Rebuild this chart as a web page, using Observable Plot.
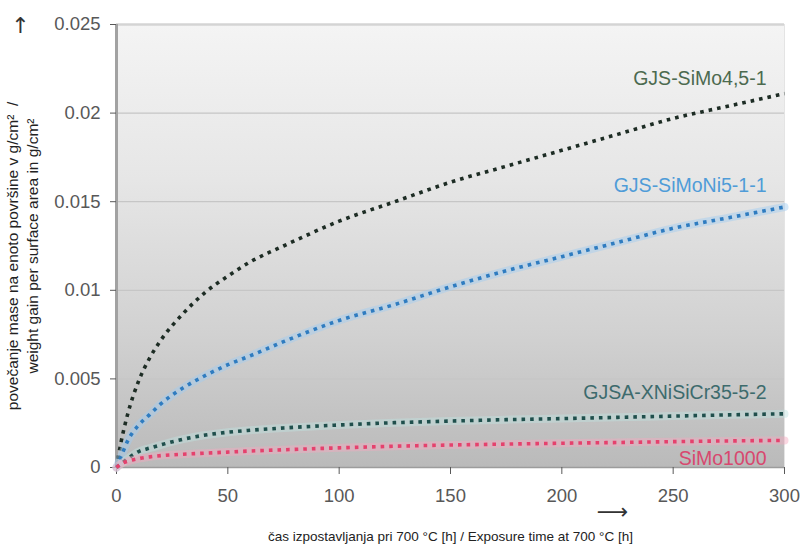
<!DOCTYPE html>
<html>
<head>
<meta charset="utf-8">
<script src="https://cdn.jsdelivr.net/npm/d3@7"></script>
<script src="https://cdn.jsdelivr.net/npm/@observablehq/plot@0.6"></script>
<style>
  html, body { margin: 0; padding: 0; background: #fff; }
</style>
</head>
<body>
<div id="chart"></div>
<script>
// ---- data ----
const hours = [0, 2, 5, 10, 15, 20, 30, 40, 50, 60, 75, 100, 125, 150, 175, 200, 225, 250, 275, 300];
const siMo45 = [0, 0.0014, 0.0030, 0.0049, 0.0062, 0.0072, 0.0087, 0.0099, 0.0108, 0.0116, 0.0125, 0.0139, 0.0150, 0.0161, 0.0170, 0.0179, 0.0188, 0.0197, 0.0204, 0.0211];
const siMoNi = [0, 0.0006, 0.0015, 0.0024, 0.0030, 0.0036, 0.0045, 0.0052, 0.0058, 0.0063, 0.0071, 0.0083, 0.0092, 0.0102, 0.0111, 0.0119, 0.0127, 0.0135, 0.0141, 0.0147];
const xNiSiCr = [0, 0.0002, 0.0005, 0.0009, 0.0011, 0.00128, 0.0016, 0.00183, 0.00199, 0.0021, 0.00223, 0.0024, 0.00253, 0.00262, 0.0027, 0.00276, 0.00283, 0.0029, 0.00297, 0.00303];
const siMo1000 = [0, 0.0002, 0.00035, 0.0005, 0.0006, 0.00067, 0.00075, 0.00081, 0.00087, 0.00093, 0.0010, 0.00111, 0.0012, 0.00127, 0.00132, 0.00137, 0.00141, 0.00146, 0.0015, 0.00153];
const seriesNames = ["GJS-SiMo4,5-1", "GJS-SiMoNi5-1-1", "GJSA-XNiSiCr35-5-2", "SiMo1000"];
const xTicks = [0, 50, 100, 150, 200, 250, 300];
const yTicks = [0, 0.005, 0.01, 0.015, 0.02, 0.025];
const xTitle = "čas izpostavljanja pri 700 °C [h] / Exposure time at 700 °C [h]";
const yTitle1 = "povečanje mase na enoto površine v g/cm²\u00a0\u00a0/";
const yTitle2 = "weight gain per surface area in g/cm²";

// ---- styles ----
const seriesValues = [siMo45, siMoNi, xNiSiCr, siMo1000];
const seriesStyle = [
  {stroke: "#1d2c24", label: "#4c6a4f", halo: null, dy: -15},
  {stroke: "#2f7cc0", label: "#4f9cd8", halo: "#9fcdf2", dy: -21},
  {stroke: "#1f4f4c", label: "#3d6b6d", halo: "#bfe3e0", dy: -21},
  {stroke: "#e5416d", label: "#d8486f", halo: "#f5a9bf", dy: 18}
];

const marks = [
  Plot.frame({fill: "url(#plotBg)"}),
  Plot.gridY({ticks: yTicks, stroke: "#c6c6c6", strokeOpacity: 1, strokeWidth: 1.2}),
  Plot.ruleY([0.025], {stroke: "#d4d4d4", strokeWidth: 2.5}),
  Plot.ruleX([300], {stroke: "#e4e4e4", strokeWidth: 1}),
  Plot.ruleY([0], {stroke: "#9c9c9c", strokeWidth: 1.5}),
  Plot.ruleX([0], {stroke: "#a2a2a2", strokeWidth: 3}),
  Plot.axisY({ticks: yTicks, tickSize: 6, tickPadding: 10, fontSize: 18.5, color: "#585858",
              tickFormat: d => String(+d.toFixed(3)), label: null}),
  Plot.axisX({ticks: xTicks, tickSize: 7, tickPadding: 14, fontSize: 18.5, color: "#585858", label: null})
];

seriesValues.forEach((vals, i) => {
  const data = hours.map((h, j) => ({h, v: vals[j]}));
  const st = seriesStyle[i];
  if (st.halo) {
    marks.push(Plot.line(data, {x: "h", y: "v", curve: "monotone-x", stroke: st.halo,
      strokeWidth: 8, strokeOpacity: 0.45}));
  }
  marks.push(Plot.line(data, {x: "h", y: "v", curve: "monotone-x", stroke: st.stroke,
    strokeWidth: 3.6, strokeDasharray: "3.6,5", strokeLinecap: "butt"}));
  const last = data[data.length - 1];
  marks.push(Plot.text([last], {x: "h", y: "v", text: () => seriesNames[i], textAnchor: "end",
    dx: -18, dy: st.dy, fontSize: 19.5, fill: st.label}));
});

// axis titles and arrows
marks.push(
  Plot.text([yTitle1], {text: d => d, frameAnchor: "left", textAnchor: "middle", lineAnchor: "middle",
    dx: -103, dy: 10, rotate: -90, fontSize: 15.5, fill: "#222"}),
  Plot.text([yTitle2], {text: d => d, frameAnchor: "left", textAnchor: "middle", lineAnchor: "middle",
    dx: -83, dy: 0, rotate: -90, fontSize: 15.5, fill: "#222"}),
  Plot.text([xTitle], {text: d => d, frameAnchor: "bottom", textAnchor: "middle", lineAnchor: "middle",
    dy: 69, fontSize: 13.5, fill: "#222"}),
  Plot.text(["↑"], {text: d => d, frameAnchor: "top-left", textAnchor: "middle", lineAnchor: "middle",
    dx: -96, dy: 1, fontSize: 22, fill: "#333", fontFamily: "DejaVu Sans"}),
  Plot.text(["⟶"], {text: d => d, frameAnchor: "bottom", textAnchor: "middle", lineAnchor: "middle",
    dx: 162, dy: 44, fontSize: 22, fill: "#333", fontFamily: "DejaVu Sans"})
);

const chart = Plot.plot({
  width: 801,
  height: 547,
  marginLeft: 116,
  marginRight: 17,
  marginTop: 24,
  marginBottom: 80,
  style: {fontFamily: "'Liberation Sans', Arial, sans-serif", background: "#fff", overflow: "visible"},
  x: {domain: [0, 300]},
  y: {domain: [0, 0.025]},
  marks
});

// gradient background for the plot area
const ns = "http://www.w3.org/2000/svg";
const defs = document.createElementNS(ns, "defs");
const grad = document.createElementNS(ns, "linearGradient");
grad.setAttribute("id", "plotBg");
grad.setAttribute("x1", "0"); grad.setAttribute("y1", "0");
grad.setAttribute("x2", "0"); grad.setAttribute("y2", "1");
[["0%", "#f4f4f4"], ["35%", "#e6e6e6"], ["70%", "#d1d1d1"], ["100%", "#bababa"]].forEach(([o, c]) => {
  const s = document.createElementNS(ns, "stop");
  s.setAttribute("offset", o); s.setAttribute("stop-color", c);
  grad.appendChild(s);
});
defs.appendChild(grad);
chart.insertBefore(defs, chart.firstChild);

document.getElementById("chart").appendChild(chart);
</script>
</body>
</html>
